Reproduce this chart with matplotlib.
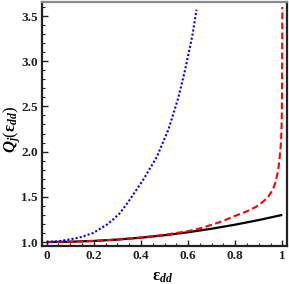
import matplotlib
matplotlib.use("Agg")
import matplotlib.pyplot as plt
from matplotlib.ticker import MultipleLocator

black_x = [0.0, 0.1, 0.2, 0.3, 0.4, 0.5, 0.6, 0.7, 0.8, 0.9, 1.0]
black_y = [1.0, 1.003, 1.012, 1.027, 1.048, 1.075, 1.108, 1.147, 1.192, 1.243, 1.30]

red_x = [0.0, 0.1, 0.2, 0.3, 0.4, 0.5, 0.6, 0.65, 0.7, 0.75, 0.8, 0.85, 0.889, 0.92, 0.94, 0.959,
         0.97, 0.98, 0.985, 0.989, 0.993, 0.995, 0.997, 0.998, 0.999, 0.9995, 0.9998, 1.0]
red_y = [1.0, 1.003, 1.012, 1.028, 1.05, 1.08, 1.12, 1.15, 1.19, 1.235, 1.29, 1.34, 1.39, 1.45, 1.50, 1.575,
         1.65, 1.76, 1.84, 1.94, 2.05, 2.13, 2.28, 2.42, 2.7, 3.0, 3.3, 3.6]

blue_x = [0.0, 0.05, 0.1, 0.14, 0.197, 0.254, 0.282, 0.311, 0.353, 0.41, 0.467, 0.516, 0.545,
          0.559, 0.587, 0.618, 0.636]
blue_y = [1.0, 1.008, 1.03, 1.05, 1.10, 1.19, 1.25, 1.32, 1.47, 1.69, 1.94, 2.24, 2.48,
          2.60, 2.90, 3.28, 3.57]

x_ticks = [0, 0.2, 0.4, 0.6, 0.8, 1.0]
x_ticklabels = ["0", "0.2", "0.4", "0.6", "0.8", "1"]
y_ticks = [1.0, 1.5, 2.0, 2.5, 3.0, 3.5]
y_ticklabels = ["1.0", "1.5", "2.0", "2.5", "3.0", "3.5"]

plt.rcParams['font.family'] = ['Liberation Serif', 'DejaVu Serif']
plt.rcParams['mathtext.fontset'] = 'custom'
plt.rcParams['mathtext.rm'] = 'Liberation Serif'
plt.rcParams['mathtext.it'] = 'Liberation Serif:italic:bold'
plt.rcParams['mathtext.bf'] = 'Liberation Serif:bold'

fig = plt.figure(figsize=(2.89, 2.84), dpi=100)
ax = fig.add_axes([42/289, 1-246/284, (287-42)/289, (246-2)/284])

ax.plot(black_x, black_y, color='black', lw=1.6, solid_capstyle='butt')
ax.plot(red_x, red_y, color='#ff0000', lw=1.5, linestyle=(0, (3.2, 1.6)))
ax.plot(blue_x, blue_y, color='#0000ff', lw=1.5, linestyle=(0, (1.0, 1.0)))

ax.set_xlim(-0.02, 1.02)
ax.set_ylim(0.956, 3.655)

ax.set_xticks(x_ticks)
ax.set_xticklabels(x_ticklabels)
ax.set_yticks(y_ticks)
ax.set_yticklabels(y_ticklabels)
ax.xaxis.set_minor_locator(MultipleLocator(0.05))
ax.yaxis.set_minor_locator(MultipleLocator(0.1))

ax.tick_params(which='major', direction='in', length=4, width=1.0, colors='#222222',
               labelsize=9.5, labelcolor='#222222', pad=3)
ax.tick_params(which='minor', direction='in', length=2, width=0.8, colors='#222222')
for lab in ax.get_xticklabels() + ax.get_yticklabels():
    lab.set_fontweight('bold')

for s in ax.spines.values():
    s.set_linewidth(1.6)
    s.set_color('#222222')
ax.spines['top'].set_color('#888888')

ax.set_xlabel(r'$\mathbf{\epsilon}_{dd}$', fontsize=12)
ax.set_ylabel(r'$Q_j(\mathbf{\epsilon}_{dd})$', fontsize=12)
ax.xaxis.set_label_coords(0.49, -0.127)
ax.yaxis.set_label_coords(-0.12, 0.48)
ax.xaxis.label.set_va('center')
ax.yaxis.label.set_va('center')

fig.savefig('out.png', dpi=100)
